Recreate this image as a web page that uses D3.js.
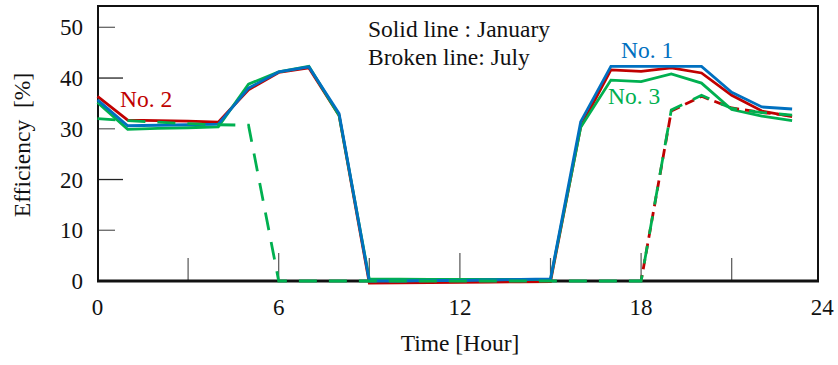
<!DOCTYPE html>
<html>
<head>
<meta charset="utf-8">
<script src="https://cdn.jsdelivr.net/npm/d3@7"></script>
<style>
  html, body { margin: 0; padding: 0; background: #fff; }
  svg { display: block; font-family: "Liberation Serif", "Times New Roman", serif; }
</style>
</head>
<body>
<svg id="chart" width="838" height="365"></svg>
<script>
// Hourly efficiency of three units, January (solid) and July (broken)
const hours = d3.range(0, 24);

const janNo1 = [35.7, 30.6, 30.7, 30.8, 30.9, 38.0, 41.2, 42.2, 33.0, 0.0, 0.0, 0.1,
                0.1, 0.2, 0.3, 0.4, 31.4, 42.3, 42.3, 42.3, 42.3, 37.2, 34.3, 33.9];
const janNo2 = [36.4, 31.7, 31.6, 31.5, 31.3, 37.7, 41.1, 42.0, 32.6, -0.4, -0.35, -0.3,
                -0.25, -0.2, -0.15, -0.1, 30.4, 41.6, 41.3, 42.0, 41.0, 36.6, 33.5, 32.4];
const janNo3 = [35.2, 29.9, 30.1, 30.2, 30.4, 38.8, 41.2, 42.3, 32.6, 0.35, 0.35, 0.3,
                0.3, 0.3, 0.3, 0.3, 30.3, 39.6, 39.3, 40.8, 39.0, 33.8, 32.5, 31.6];
const julNo2 = [null, null, null, null, null, null, null, null, null, null, null, null,
                null, null, null, null, null, null, 0, 33.5, 36.4, 34.1, 33.2, 32.6];
const julNo3 = [32.0, 31.6, 31.3, 31.0, 30.8, 30.7, 0, 0, 0, 0, 0, 0,
                0, 0, 0, 0, 0, 0, 0, 33.7, 36.6, 34.0, 33.2, 32.7];

const xTicks = [0, 6, 12, 18, 24];
const yTicks = [0, 10, 20, 30, 40, 50];
const xMinorTicks = [3, 6, 9, 12, 15, 18, 21];
const yInnerTicks = [10, 20, 30, 40, 50];

const colors = { no1: "#0070C0", no2: "#C00000", no3: "#00B050" };

const svg = d3.select("#chart");
const frame = { left: 98, right: 818, top: 6, bottom: 281 };

const x = d3.scaleLinear().domain([0, 24]).range([97.5, 822.3]);
const y = d3.scaleLinear().domain([0, 54.2]).range([281, 6]);

const line = d3.line()
  .defined(d => d[1] !== null)
  .x(d => x(d[0]))
  .y(d => y(d[1]));
const pts = arr => hours.map((h, i) => [h, arr[i]]);

// inner tick marks
svg.append("g").selectAll("line").data(xMinorTicks).join("line")
  .attr("x1", d => x(d)).attr("x2", d => x(d))
  .attr("y1", frame.bottom)
  .attr("y2", d => frame.bottom - (d % 6 === 0 ? 28 : 23))
  .attr("stroke", "#555").attr("stroke-width", 1.2);

svg.append("g").selectAll("line").data(yInnerTicks).join("line")
  .attr("x1", frame.left)
  .attr("x2", d => frame.left + (d % 20 === 0 ? 25 : 17))
  .attr("y1", d => y(d)).attr("y2", d => y(d))
  .attr("stroke", d => d % 20 === 0 ? "#222" : "#666").attr("stroke-width", 1.3);

// frame
svg.append("rect")
  .attr("x", frame.left).attr("y", frame.top)
  .attr("width", frame.right - frame.left).attr("height", frame.bottom - frame.top)
  .attr("fill", "none").attr("stroke", "#111").attr("stroke-width", 2);
svg.append("line")
  .attr("x1", frame.left - 1).attr("x2", frame.right + 1)
  .attr("y1", frame.bottom).attr("y2", frame.bottom)
  .attr("stroke", "#111").attr("stroke-width", 2.8);

// January (solid)
const solid = [[janNo2, colors.no2], [janNo3, colors.no3], [janNo1, colors.no1]];
svg.append("g").selectAll("path").data(solid).join("path")
  .attr("d", d => line(pts(d[0])))
  .attr("fill", "none").attr("stroke", d => d[1])
  .attr("stroke-width", 2.8).attr("stroke-linejoin", "miter");

// July (broken)
svg.append("path").attr("d", line(pts(julNo2)))
  .attr("fill", "none").attr("stroke", colors.no2).attr("stroke-width", 2.8)
  .attr("stroke-dasharray", "10,6").attr("stroke-dashoffset", 4);
svg.append("path").attr("d", line(pts(julNo3)))
  .attr("fill", "none").attr("stroke", colors.no3).attr("stroke-width", 2.8)
  .attr("stroke-dasharray", "18,12");

// tick labels
svg.append("g").selectAll("text").data(xTicks).join("text")
  .attr("x", d => x(d)).attr("y", 315)
  .attr("text-anchor", "middle").attr("font-size", 23).attr("fill", "#111")
  .text(d => d);
svg.append("g").selectAll("text").data(yTicks).join("text")
  .attr("x", 83).attr("y", d => y(d) + 8)
  .attr("text-anchor", "end").attr("font-size", 23).attr("fill", "#111")
  .text(d => d);

// axis titles
svg.append("text").attr("x", 460).attr("y", 351)
  .attr("text-anchor", "middle").attr("font-size", 23.5).attr("fill", "#111")
  .text("Time [Hour]");
svg.append("text")
  .attr("transform", "translate(30,145) rotate(-90)")
  .attr("text-anchor", "middle").attr("font-size", 23.5).attr("fill", "#111")
  .style("white-space", "pre")
  .text("Efficiency  [%]");

// legend notes
svg.append("text").attr("x", 368).attr("y", 37)
  .attr("font-size", 23.5).attr("fill", "#111").text("Solid line : January");
svg.append("text").attr("x", 368).attr("y", 65)
  .attr("font-size", 23.5).attr("fill", "#111").text("Broken line: July");

// series labels
svg.append("text").attr("x", 621).attr("y", 57.5)
  .attr("font-size", 23.5).attr("fill", colors.no1).text("No. 1");
svg.append("text").attr("x", 120).attr("y", 107)
  .attr("font-size", 23.5).attr("fill", colors.no2).text("No. 2");
svg.append("text").attr("x", 608).attr("y", 103.5)
  .attr("font-size", 23.5).attr("fill", colors.no3).text("No. 3");
</script>
</body>
</html>
